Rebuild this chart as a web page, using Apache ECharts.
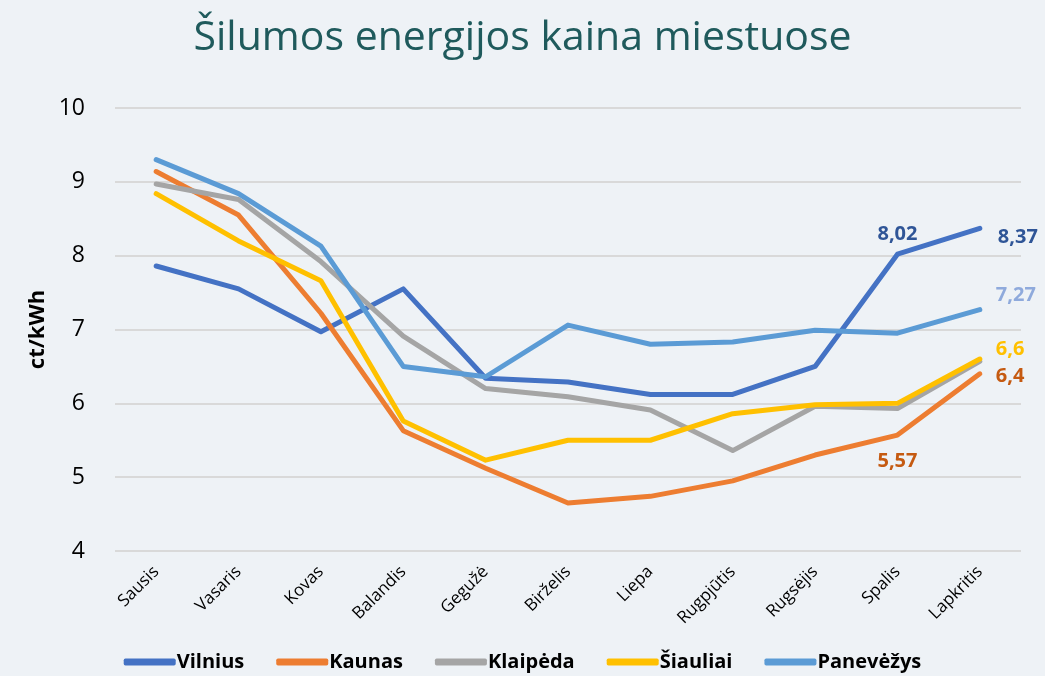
<!DOCTYPE html>
<html>
<head>
<meta charset="utf-8">
<script src="https://cdn.jsdelivr.net/npm/echarts@6/dist/echarts.min.js"></script>
<style>
  html, body { margin: 0; padding: 0; background: #eef2f6; }
  #main { width: 1045px; height: 676px; }
</style>
</head>
<body>
<div id="main"></div>
<script>
var months = ['Sausis', 'Vasaris', 'Kovas', 'Balandis', 'Gegužė', 'Birželis', 'Liepa', 'Rugpjūtis', 'Rugsėjis', 'Spalis', 'Lapkritis'];

var vilnius = [7.86, 7.55, 6.97, 7.55, 6.34, 6.29, 6.12, 6.12, 6.5, 8.02, 8.37];
var kaunas = [9.14, 8.55, 7.22, 5.63, 5.12, 4.65, 4.74, 4.95, 5.3, 5.57, 6.4];
var klaipeda = [8.97, 8.76, 7.92, 6.91, 6.2, 6.09, 5.91, 5.36, 5.96, 5.93, 6.57];
var siauliai = [8.84, 8.2, 7.66, 5.76, 5.23, 5.5, 5.5, 5.86, 5.98, 6.0, 6.6];
var panevezys = [9.3, 8.84, 8.13, 6.5, 6.36, 7.06, 6.8, 6.83, 6.99, 6.95, 7.27];

var chart = echarts.init(document.getElementById('main'));

function fmt(v) {
  return String(v).replace('.', ',');
}

// labels only on a few points, like the original
function withLabels(values, marks) {
  return values.map(function (v, i) {
    var m = marks[i];
    if (!m) return v;
    return {
      value: v,
      label: {
        show: true,
        position: m.pos,
        distance: m.dist || 8,
        offset: m.off || [0, 0],
        color: m.color,
        fontFamily: 'Open Sans',
        fontSize: 20,
        fontWeight: 'bold',
        formatter: function (p) { return fmt(p.value); }
      }
    };
  });
}

function line(name, color, data) {
  return {
    name: name,
    type: 'line',
    data: data,
    showSymbol: true,
    symbol: 'circle',
    symbolSize: 0,
    lineStyle: { width: 5, color: color, cap: 'round', join: 'round' },
    itemStyle: { color: color },
    emphasis: { disabled: true }
  };
}

var option = {
  backgroundColor: '#eef2f6',
  title: {
    text: 'Šilumos energijos kaina miestuose',
    left: 'center',
    top: 13,
    textStyle: {
      fontFamily: 'Open Sans',
      fontSize: 41,
      fontWeight: 'normal',
      color: '#1f5a5c'
    }
  },
  legend: {
    bottom: -1,
    itemWidth: 52,
    itemHeight: 7,
    itemGap: 32,
    icon: 'roundRect',
    textStyle: { fontFamily: 'Open Sans', fontSize: 20, fontWeight: 'bold', color: '#000', padding: [0, 0, 0, -4] }
  },
  grid: {
    left: 115,
    right: 24,
    top: 108,
    bottom: 125,
    containLabel: false
  },
  xAxis: {
    type: 'category',
    data: months,
    boundaryGap: true,
    axisLine: { show: false },
    axisTick: { show: false },
    axisLabel: {
      rotate: 45,
      fontFamily: 'Open Sans',
      fontSize: 17,
      color: '#000',
      margin: 18
    }
  },
  yAxis: {
    type: 'value',
    min: 4,
    max: 10,
    interval: 1,
    name: 'ct/kWh',
    nameLocation: 'middle',
    nameGap: 66,
    nameMoveOverlap: false,
    nameTextStyle: { fontFamily: 'Open Sans', fontSize: 22, fontWeight: 'bold', color: '#000' },
    axisLabel: { fontFamily: 'Open Sans', fontSize: 23, color: '#000', margin: 30 },
    splitLine: { lineStyle: { color: '#d9d9d9', width: 2 } }
  },
  series: [
    line('Vilnius', '#4472c4', withLabels(vilnius, {
      9: { pos: 'top', color: '#2f5597', dist: 10 },
      10: { pos: 'right', color: '#2f5597', dist: 18, off: [0, 9] }
    })),
    line('Kaunas', '#ed7d31', withLabels(kaunas, {
      9: { pos: 'bottom', color: '#c55a11', dist: 16 },
      10: { pos: 'right', color: '#c55a11', dist: 16, off: [0, 2] }
    })),
    line('Klaipėda', '#a5a5a5', klaipeda),
    line('Šiauliai', '#ffc000', withLabels(siauliai, {
      10: { pos: 'right', color: '#ffc000', dist: 16, off: [0, -10] }
    })),
    line('Panevėžys', '#5b9bd5', withLabels(panevezys, {
      10: { pos: 'right', color: '#8faadc', dist: 16, off: [0, -14] }
    }))
  ]
};

chart.setOption(option);
</script>
</body>
</html>
